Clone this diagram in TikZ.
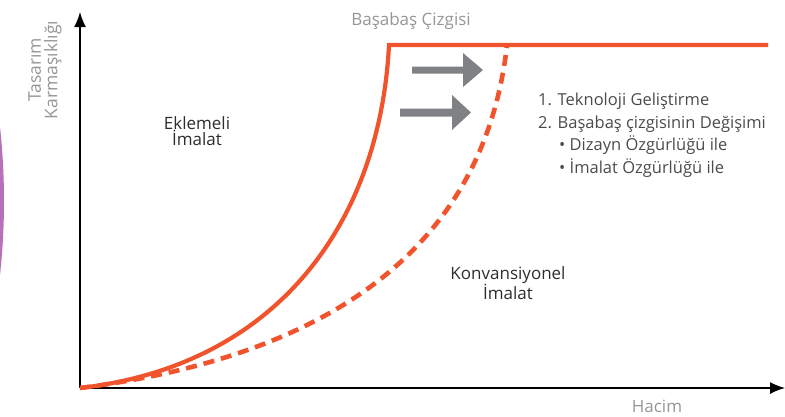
\documentclass[tikz,border=0pt]{standalone}
\usepackage{fontspec}
\setmainfont{Open Sans}
\usetikzlibrary{arrows.meta}
\definecolor{curveorange}{RGB}{241,84,44}
\definecolor{arrowgrey}{RGB}{128,129,133}
\definecolor{labelgrey}{RGB}{150,150,153}
\definecolor{textdark}{RGB}{45,45,45}
\definecolor{listgrey}{RGB}{75,75,78}
\definecolor{sidepurple}{RGB}{184,112,184}
\tikzset{
  axisline/.style={line width=1.4pt, black, -{Latex[length=15pt,width=12pt]}},
  solidcurve/.style={line width=4.2pt, curveorange, line join=miter},
  dashcurve/.style={line width=4.6pt, curveorange, dash pattern=on 11pt off 7pt},
  bigarrow/.style={fill=arrowgrey},
  axlabel/.style={text=labelgrey, font=\fontsize{17}{16}\selectfont, inner sep=0pt, align=center},
  regionlabel/.style={text=textdark, font=\fontsize{17}{16}\selectfont, inner sep=0pt, align=center},
  listtext/.style={text=listgrey, font=\fontsize{16.5}{22.5}\selectfont, inner sep=0pt, align=left, anchor=north west}
}
\begin{document}
\begin{tikzpicture}[x=1pt,y=-1pt]
\useasboundingbox (0,0) rectangle (785,416);
% purple sliver on the left
\begin{scope}
  \clip (0,0) rectangle (785,416);
  \fill[sidepurple] (-673,201) circle (677);
\end{scope}
% axes
\coordinate (origin) at (80,388);
\coordinate (ytop) at (80,12);
\coordinate (xend) at (785,388);
\draw[axisline] (origin) -- (ytop);
\draw[axisline] (origin) -- (xend);
% curves
\coordinate (corner) at (389,45);
\coordinate (topend) at (768,45);
\coordinate (dashend) at (507,45);
\draw[dashcurve] (origin) .. controls (340,355) and (485,240) .. (dashend);
\draw[solidcurve] (origin) .. controls (280,365) and (380,220) .. (corner) -- (topend);
% grey arrows
\fill[bigarrow] (412,66.5) -- (463,66.5) -- (463,53) -- (483,70) -- (463,87) -- (463,73.5) -- (412,73.5) -- cycle;
\fill[bigarrow] (400,108.5) -- (452,108.5) -- (452,95) -- (471,112.5) -- (452,130) -- (452,116.5) -- (400,116.5) -- cycle;
% labels
\node[axlabel, rotate=90, font=\fontsize{17.5}{16.5}\selectfont] (ylabel) at (45,70) {Tasarım\\Karmaşıklığı};
\node[axlabel] (bline) at (411,21) {Başabaş Çizgisi};
\node[axlabel] (xlabel) at (657,406) {Hacim};
\node[regionlabel] (eklemeli) at (197,131) {Eklemeli\\İmalat};
\node[regionlabel] (konv) at (508,283) {Konvansiyonel\\İmalat};
\node[listtext] (list) at (538,93) {1. Teknoloji Geliştirme\\2. Başabaş çizgisinin Değişimi\\\hspace*{21pt}• Dizayn Özgürlüğü ile\\\hspace*{21pt}• İmalat Özgürlüğü ile};
\end{tikzpicture}
\end{document}
